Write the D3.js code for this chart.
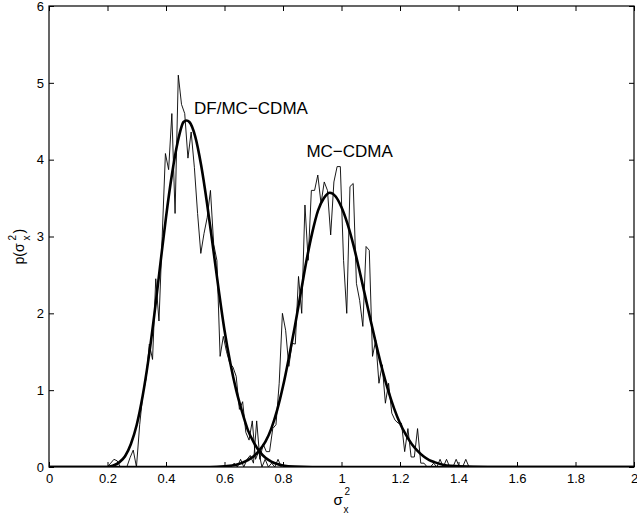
<!DOCTYPE html>
<html>
<head>
<meta charset="utf-8">
<script src="https://cdn.jsdelivr.net/npm/d3@7"></script>
<style>
  html, body { margin: 0; padding: 0; background: #fff; }
  svg { display: block; }
  text { font-family: "Liberation Sans", Arial, Helvetica, sans-serif; fill: #000; }
</style>
</head>
<body>
<svg id="chart" width="637" height="519"></svg>
<script>
// ---------- data ----------
const xTicks = [0, 0.2, 0.4, 0.6, 0.8, 1, 1.2, 1.4, 1.6, 1.8, 2];
const xTickLabels = ["0", "0.2", "0.4", "0.6", "0.8", "1", "1.2", "1.4", "1.6", "1.8", "2"];
const yTicks = [0, 1, 2, 3, 4, 5, 6];
const yTickLabels = ["0", "1", "2", "3", "4", "5", "6"];

// histogram (thin line) bins
const binWidth = 0.011;
const dfHistStart = 0.20;
const dfHist = [0, 0.05, 0.1, 0.08, 0, 0, 0, 0.12, 0.22, 0, 0.55, 0.95, 1.15, 1.6, 1.4,
  2.45, 1.9, 3.0, 4.08, 3.87, 4.6, 3.3, 5.1, 4.72, 4.6, 4.02, 4.36, 3.9, 3.3, 2.78,
  3.04, 3.25, 3.6, 2.9, 2.69, 1.44, 1.7, 1.5, 1.35, 1.3, 1.18, 0.75, 0.85, 0.45, 0.35,
  0.6, 0.1, 0.2, 0, 0.1, 0, 0.05, 0, 0.1, 0];
const mcHistStart = 0.60;
const mcHist = [0, 0, 0, 0.05, 0, 0.1, 0, 0.1, 0.15, 0.05, 0.6, 0.1, 0.3, 0.2, 0.2,
  0.5, 0.55, 1.09, 2.0, 1.78, 1.31, 1.61, 1.6, 2.48, 2.0, 3.41, 2.69, 3.6, 3.6, 3.8,
  3.43, 3.71, 3.6, 3.02, 3.71, 3.91, 3.91, 2.69, 2.0, 3.65, 3.69, 2.39, 2.17, 1.83, 2.87,
  2.82, 1.44, 1.65, 1.09, 1.33, 0.83, 1.09, 0.7, 0.61, 0.57, 0.57, 0.2, 0.5, 0.13, 0.13,
  0.5, 0.05, 0.05, 0, 0, 0.05, 0, 0.1, 0, 0.1, 0, 0, 0.1, 0, 0, 0.1, 0];

// fitted pdf curves (thick lines)
const dfFitX = [0, 0.20, 0.22, 0.24, 0.26, 0.28, 0.30, 0.32, 0.34, 0.36, 0.38, 0.40, 0.42, 0.44,
  0.46, 0.47, 0.48, 0.50, 0.52, 0.54, 0.56, 0.58, 0.60, 0.62, 0.64, 0.66, 0.68, 0.70,
  0.72, 0.74, 0.76, 0.78, 0.80, 0.84, 0.90, 2.0];
const dfFitY = [0, 0, 0.02, 0.06, 0.14, 0.30, 0.55, 0.92, 1.40, 1.98, 2.62, 3.25, 3.80, 4.23,
  4.49, 4.51, 4.49, 4.30, 3.93, 3.44, 2.88, 2.31, 1.78, 1.35, 1.00, 0.72, 0.48, 0.32,
  0.20, 0.12, 0.07, 0.04, 0.02, 0.005, 0, 0];
const mcFitX = [0, 0.55, 0.60, 0.64, 0.68, 0.70, 0.72, 0.74, 0.76, 0.78, 0.80, 0.82, 0.84, 0.86,
  0.88, 0.90, 0.92, 0.94, 0.96, 0.98, 1.00, 1.02, 1.04, 1.06, 1.08, 1.10, 1.12, 1.14,
  1.16, 1.18, 1.20, 1.22, 1.24, 1.26, 1.28, 1.30, 1.32, 1.36, 1.40, 1.50, 2.0];
const mcFitY = [0, 0, 0.01, 0.03, 0.09, 0.14, 0.22, 0.33, 0.50, 0.74, 1.05, 1.42, 1.82, 2.25,
  2.68, 3.05, 3.34, 3.50, 3.57, 3.52, 3.38, 3.17, 2.90, 2.58, 2.24, 1.90, 1.57, 1.26,
  0.99, 0.76, 0.57, 0.42, 0.30, 0.21, 0.14, 0.09, 0.06, 0.02, 0.01, 0, 0];

const annotations = [
  { text: "DF/MC\u2212CDMA", x: 0.496, y: 4.60 },
  { text: "MC\u2212CDMA", x: 0.880, y: 4.03 }
];

// ---------- layout ----------
const plot = { left: 49, right: 634, top: 6, bottom: 467 };
const svg = d3.select("#chart");

const x = d3.scaleLinear().domain([0, 2]).range([plot.left, plot.right]);
const y = d3.scaleLinear().domain([0, 6]).range([plot.bottom, plot.top]);

svg.append("defs").append("clipPath").attr("id", "clip")
  .append("rect").attr("x", plot.left).attr("y", plot.top - 1)
  .attr("width", plot.right - plot.left).attr("height", plot.bottom - plot.top + 1);

// axes
const fs = "13px";
const xAxisB = d3.axisBottom(x).tickValues(xTicks).tickSize(-5).tickPadding(7)
  .tickFormat((d, i) => xTickLabels[i]);
const xAxisT = d3.axisTop(x).tickValues(xTicks).tickSize(-5).tickFormat("");
const yAxisL = d3.axisLeft(y).tickValues(yTicks).tickSize(-5).tickPadding(5)
  .tickFormat((d, i) => yTickLabels[i]);
const yAxisR = d3.axisRight(y).tickValues(yTicks).tickSize(-5).tickFormat("");

function styleAxis(g) {
  g.select(".domain").remove();
  g.selectAll(".tick line").attr("stroke", "#000").attr("stroke-width", 1);
  g.selectAll(".tick text").style("font-size", fs).style("font-family", '"Liberation Sans", Arial, sans-serif').attr("fill", "#000");
}
svg.append("g").attr("transform", `translate(0,${plot.bottom})`).call(xAxisB).call(styleAxis);
svg.append("g").attr("transform", `translate(0,${plot.top})`).call(xAxisT).call(styleAxis);
svg.append("g").attr("transform", `translate(${plot.left},0)`).call(yAxisL).call(styleAxis);
svg.append("g").attr("transform", `translate(${plot.right},0)`).call(yAxisR).call(styleAxis);

// data layer
const layer = svg.append("g").attr("clip-path", "url(#clip)");

const histLine = d3.line().x(d => x(d[0])).y(d => y(d[1]));
function histPoints(start, vals) { return vals.map((v, i) => [start + i * binWidth, v]); }

layer.append("path").datum(histPoints(dfHistStart, dfHist))
  .attr("d", histLine).attr("fill", "none").attr("stroke", "#000").attr("stroke-width", 0.9);
layer.append("path").datum(histPoints(mcHistStart, mcHist))
  .attr("d", histLine).attr("fill", "none").attr("stroke", "#000").attr("stroke-width", 0.9);

const fitLine = d3.line().x(d => x(d[0])).y(d => y(d[1])).curve(d3.curveMonotoneX);
layer.append("path").datum(dfFitX.map((v, i) => [v, dfFitY[i]]))
  .attr("d", fitLine).attr("fill", "none").attr("stroke", "#000").attr("stroke-width", 2.6);
layer.append("path").datum(mcFitX.map((v, i) => [v, mcFitY[i]]))
  .attr("d", fitLine).attr("fill", "none").attr("stroke", "#000").attr("stroke-width", 2.6);

// frame
svg.append("rect").attr("x", plot.left).attr("y", plot.top)
  .attr("width", plot.right - plot.left).attr("height", plot.bottom - plot.top)
  .attr("fill", "none").attr("stroke", "#000").attr("stroke-width", 1.2);

// annotations
svg.selectAll("text.ann").data(annotations).enter().append("text")
  .attr("class", "ann").attr("x", d => x(d.x)).attr("y", d => y(d.y))
  .style("font-size", "17px").text(d => d.text);

// x label: sigma with sub x and sup 2
const xl = svg.append("g").attr("transform", `translate(${x(1) - 8},505)`);
xl.append("text").attr("x", 0).attr("y", 0).style("font-size", "15px").text("\u03c3");
xl.append("text").attr("x", 11).attr("y", -10).style("font-size", "10px").text("2");
xl.append("text").attr("x", 10).attr("y", 8).style("font-size", "10px").text("x");

// y label: p(sigma^2_x) rotated
const yl = svg.append("g").attr("transform", `translate(24,${y(3) + 28}) rotate(-90)`);
yl.append("text").attr("x", 0).attr("y", 0).style("font-size", "14px").text("p(\u03c3");
yl.append("text").attr("x", 24).attr("y", -8).style("font-size", "10px").text("2");
yl.append("text").attr("x", 24).attr("y", 6).style("font-size", "10px").text("x");
yl.append("text").attr("x", 31).attr("y", 0).style("font-size", "14px").text(")");
</script>
</body>
</html>
